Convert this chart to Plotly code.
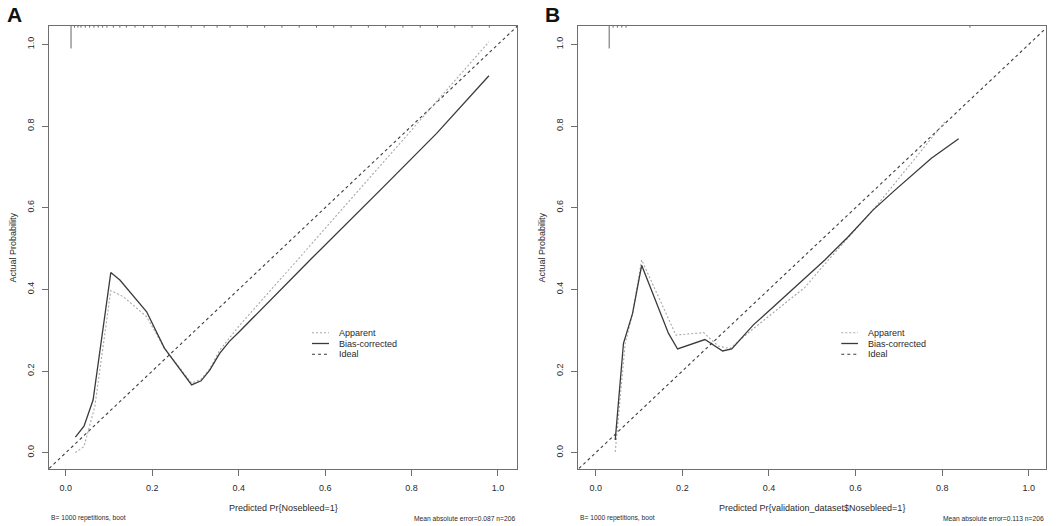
import plotly.graph_objects as go

# ---------------- data ----------------
# Panel A
a_app_x = [0.022, 0.042, 0.067, 0.104, 0.133, 0.187, 0.228, 0.291, 0.313, 0.333, 0.356, 0.403, 0.536, 0.750, 0.979]
a_app_y = [0.000, 0.015, 0.113, 0.397, 0.382, 0.333, 0.256, 0.170, 0.180, 0.205, 0.251, 0.313, 0.472, 0.730, 1.006]
a_bias_x = [0.022, 0.042, 0.063, 0.104, 0.125, 0.187, 0.228, 0.291, 0.313, 0.333, 0.356, 0.378, 0.403, 0.526, 0.569, 0.735, 0.858, 0.979]
a_bias_y = [0.038, 0.065, 0.129, 0.441, 0.423, 0.345, 0.256, 0.166, 0.176, 0.202, 0.243, 0.272, 0.298, 0.430, 0.476, 0.651, 0.782, 0.923]
a_rug_x = [0.012, 0.020, 0.028, 0.035, 0.045, 0.055, 0.065, 0.075, 0.085, 0.095, 0.110, 0.125, 0.140, 0.160, 0.180, 0.200,
           0.230, 0.260, 0.290, 0.320, 0.350, 0.380, 0.420, 0.460, 0.500, 0.540, 0.580, 0.620, 0.660, 0.700, 0.740,
           0.780, 0.820, 0.860, 0.900, 0.940, 0.980]
a_rug_len = [0.055] + [0.004] * 36

# Panel B
b_app_x = [0.045, 0.068, 0.085, 0.106, 0.185, 0.249, 0.283, 0.310, 0.364, 0.483, 0.537, 0.640, 0.806]
b_app_y = [0.002, 0.268, 0.341, 0.472, 0.288, 0.294, 0.261, 0.255, 0.304, 0.405, 0.472, 0.594, 0.810]
b_bias_x = [0.045, 0.064, 0.085, 0.106, 0.168, 0.189, 0.252, 0.293, 0.314, 0.364, 0.406, 0.467, 0.529, 0.583, 0.640, 0.691, 0.775, 0.838]
b_bias_y = [0.031, 0.268, 0.341, 0.459, 0.292, 0.254, 0.277, 0.249, 0.254, 0.313, 0.353, 0.412, 0.472, 0.529, 0.594, 0.643, 0.721, 0.769]
b_rug_x = [0.031, 0.040, 0.050, 0.060, 0.070, 0.864]
b_rug_len = [0.055, 0.004, 0.004, 0.004, 0.004, 0.004]

ideal_ends = [-0.2, 1.2]
tick_vals = [0.0, 0.2, 0.4, 0.6, 0.8, 1.0]
tick_text = ["0.0", "0.2", "0.4", "0.6", "0.8", "1.0"]

x_titles = ["Predicted Pr{Nosebleed=1}", "Predicted Pr{validation_dataset$Nosebleed=1}"]
y_title = "Actual Probability"
panel_labels = ["A", "B"]
left_notes = ["B= 1000 repetitions, boot", "B= 1000 repetitions, boot"]
right_notes = ["Mean absolute error=0.087 n=206", "Mean absolute error=0.113 n=206"]
legend_names = ["Apparent", "Bias-corrected", "Ideal"]

# ---------------- styling ----------------
W, H = 1058, 526
FONT = "Liberation Sans, Arial, Helvetica, sans-serif"
FRAME = "#6e6e6e"
TXT = "#2a2a2a"
Y_TOP = 1.045
Y_RANGE = [-0.040, Y_TOP]
styles = {
    "Apparent": dict(color="#a8a8a8", width=1.1, dash="2px,2px"),
    "Bias-corrected": dict(color="#3a3a3a", width=1.3, dash="solid"),
    "Ideal": dict(color="#3c3c3c", width=1.1, dash="3px,3px"),
}

panels = [
    dict(xa="x", ya="y", dom=[49 / W, 517 / W], xr=[-0.039, 1.044],
         app=(a_app_x, a_app_y), bias=(a_bias_x, a_bias_y), rug=(a_rug_x, a_rug_len),
         px_left=49, px_right=517, letter_x=14.5, leg_line=(312, 329), leg_text=337, leg_rows=[332.7, 343.5, 354.3]),
    dict(xa="x2", ya="y2", dom=[578 / W, 1045.7 / W], xr=[-0.041, 1.039],
         app=(b_app_x, b_app_y), bias=(b_bias_x, b_bias_y), rug=(b_rug_x, b_rug_len),
         px_left=578, px_right=1045.7, letter_x=552.5, leg_line=(841.3, 858), leg_text=866.3, leg_rows=[332.7, 343.5, 354.3]),
]

fig = go.Figure()
annotations = []
shapes = []

def px2paper(px, py):
    return px / W, 1 - py / H

for i, p in enumerate(panels):
    # rug along the top edge
    rx, rl = p["rug"]
    rug_xs, rug_ys = [], []
    for xv, lv in zip(rx, rl):
        rug_xs += [xv, xv, None]
        rug_ys += [Y_TOP, Y_TOP - lv, None]
    fig.add_trace(go.Scatter(x=rug_xs, y=rug_ys, mode="lines", xaxis=p["xa"], yaxis=p["ya"],
                             line=dict(color="#666666", width=1), showlegend=False, hoverinfo="skip"))
    # ideal
    fig.add_trace(go.Scatter(x=ideal_ends, y=ideal_ends, mode="lines", name="Ideal", xaxis=p["xa"], yaxis=p["ya"],
                             line=styles["Ideal"], showlegend=False))
    # apparent
    fig.add_trace(go.Scatter(x=p["app"][0], y=p["app"][1], mode="lines", name="Apparent", xaxis=p["xa"], yaxis=p["ya"],
                             line=styles["Apparent"], showlegend=False))
    # bias-corrected
    fig.add_trace(go.Scatter(x=p["bias"][0], y=p["bias"][1], mode="lines", name="Bias-corrected",
                             xaxis=p["xa"], yaxis=p["ya"], line=styles["Bias-corrected"], showlegend=False))

    cx = (p["px_left"] + p["px_right"]) / 2
    # x title
    annotations.append(dict(text=x_titles[i], x=cx / W, y=1 - 507.7 / H, xref="paper", yref="paper",
                            showarrow=False, xanchor="center", yanchor="middle", font=dict(size=9, color=TXT, family=FONT)))
    # y title
    annotations.append(dict(text=y_title, x=(p["px_left"] - 37) / W, y=1 - 247.5 / H, xref="paper", yref="paper",
                            showarrow=False, textangle=-90, xanchor="center", yanchor="middle",
                            font=dict(size=9, color=TXT, family=FONT)))
    # panel letter
    annotations.append(dict(text="<b>%s</b>" % panel_labels[i], x=p["letter_x"] / W, y=1 - 15 / H, xref="paper",
                            yref="paper", showarrow=False, xanchor="center", yanchor="middle",
                            font=dict(size=21, color="#111111", family=FONT)))
    # bottom notes
    annotations.append(dict(text=left_notes[i], x=p["px_left"] / W, y=1 - 518 / H, xref="paper", yref="paper",
                            showarrow=False, xanchor="left", yanchor="middle", font=dict(size=6.7, color=TXT, family=FONT)))
    annotations.append(dict(text=right_notes[i], x=p["px_right"] / W, y=1 - 518 / H, xref="paper", yref="paper",
                            showarrow=False, xanchor="right", yanchor="middle", font=dict(size=6.7, color=TXT, family=FONT)))
    # legend
    for name, row in zip(legend_names, p["leg_rows"]):
        x0, y0 = px2paper(p["leg_line"][0], row)
        x1, _ = px2paper(p["leg_line"][1], row)
        st = styles[name]
        shapes.append(dict(type="line", xref="paper", yref="paper", x0=x0, x1=x1, y0=y0, y1=y0,
                           line=dict(color=st["color"], width=st["width"], dash=st["dash"])))
        tx, ty = px2paper(p["leg_text"], row)
        annotations.append(dict(text=name, x=tx, y=ty, xref="paper", yref="paper", showarrow=False,
                                xanchor="left", yanchor="middle", font=dict(size=9, color=TXT, family=FONT)))

axis_common = dict(showline=True, mirror=True, linecolor=FRAME, linewidth=1, showgrid=False, zeroline=False,
                   ticks="outside", ticklen=6, tickwidth=1, tickcolor=FRAME, tickvals=tick_vals, ticktext=tick_text,
                   tickfont=dict(size=9, color=TXT, family=FONT))

ydom = [1 - 469 / H, 1 - 26 / H]
layout = dict(
    width=W, height=H, margin=dict(l=0, r=0, t=0, b=0),
    paper_bgcolor="white", plot_bgcolor="white",
    showlegend=False, annotations=annotations, shapes=shapes,
    font=dict(family=FONT, color=TXT),
)
for p in panels:
    xk = "xaxis" if p["xa"] == "x" else "xaxis2"
    yk = "yaxis" if p["ya"] == "y" else "yaxis2"
    layout[xk] = dict(axis_common, domain=p["dom"], range=p["xr"], anchor=p["ya"], ticklabelstandoff=4)
    layout[yk] = dict(axis_common, domain=ydom, range=Y_RANGE, anchor=p["xa"], tickangle=-90, ticklabelstandoff=4)

fig.update_layout(**layout)
fig.write_html("out.html", config={"displayModeBar": False},
               post_script="document.body.style.margin='0';document.body.style.padding='0';document.body.style.overflow='hidden';")
